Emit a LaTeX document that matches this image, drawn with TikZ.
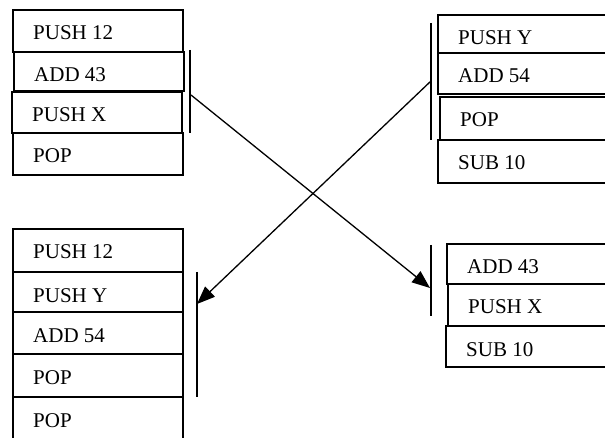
\documentclass[tikz,border=0pt]{standalone}
\usepackage{fontspec}
\setmainfont{Liberation Serif}
\usetikzlibrary{arrows.meta}

\tikzset{
  cellbox/.style={draw=black, line width=1.4pt, fill=white, inner sep=0pt, outer sep=0pt},
  celltext/.style={anchor=base west, inner sep=0pt, font=\fontsize{21pt}{25pt}\selectfont},
  bracket/.style={line width=1.7pt},
  flow/.style={line width=1.3pt, -{Triangle[length=18pt,width=14pt]}}
}

% \stackcell{name}{left}{top}{right}{bottom}{text}
\newcommand{\stackcell}[6]{%
  \node[cellbox, minimum width={(#4-#2)*1pt}, minimum height={(#5-#3)*1pt}]
    (#1) at ({(#2+#4)/2},{(#3+#5)/2}) {};
  \node[celltext] (#1-t) at ([shift={(20,30)}]#1.north west) {#6};
}

\begin{document}
\begin{tikzpicture}[x=1pt,y=-1pt]
\clip (0,0) rectangle (605,438);
\fill[white] (0,0) rectangle (605,438);

% upper left program
\stackcell{a1}{13}{10}{183}{52}{PUSH 12}
\stackcell{a2}{14}{52}{184}{91}{ADD 43}
\stackcell{a3}{12}{92}{182}{133}{PUSH X}
\stackcell{a4}{13}{133}{183}{175}{POP}

% upper right program
\stackcell{b1}{438}{15}{620}{53}{PUSH Y}
\stackcell{b2}{438}{53}{620}{94}{ADD 54}
\stackcell{b3}{440}{97}{620}{140}{POP}
\stackcell{b4}{438}{140}{620}{183}{SUB 10}

% lower left program
\stackcell{c1}{13}{229}{183}{272}{PUSH 12}
\stackcell{c2}{13}{272}{183}{312}{PUSH Y}
\stackcell{c3}{13}{312}{183}{354}{ADD 54}
\stackcell{c4}{13}{354}{183}{397}{POP}
\stackcell{c5}{13}{397}{183}{450}{POP}

% lower right program
\stackcell{d1}{447}{244}{620}{284}{ADD 43}
\stackcell{d2}{448}{284}{620}{326}{PUSH X}
\stackcell{d3}{446}{326}{620}{367}{SUB 10}

% brackets marking the moved blocks
\coordinate (ka) at (190,50);  \coordinate (kb) at (190,133);
\coordinate (la) at (431,23);  \coordinate (lb) at (431,140);
\coordinate (ma) at (197,272); \coordinate (mb) at (197,397);
\coordinate (na) at (431,245); \coordinate (nb) at (431,316);
\draw[bracket] (ka) -- (kb);
\draw[bracket] (la) -- (lb);
\draw[bracket] (ma) -- (mb);
\draw[bracket] (na) -- (nb);

% transfer arrows
\coordinate (s1) at (191,95);  \coordinate (e1) at (430,288);
\coordinate (s2) at (431,81);  \coordinate (e2) at (197,304);
\draw[flow] (s1) -- (e1);
\draw[flow] (s2) -- (e2);
\end{tikzpicture}
\end{document}
